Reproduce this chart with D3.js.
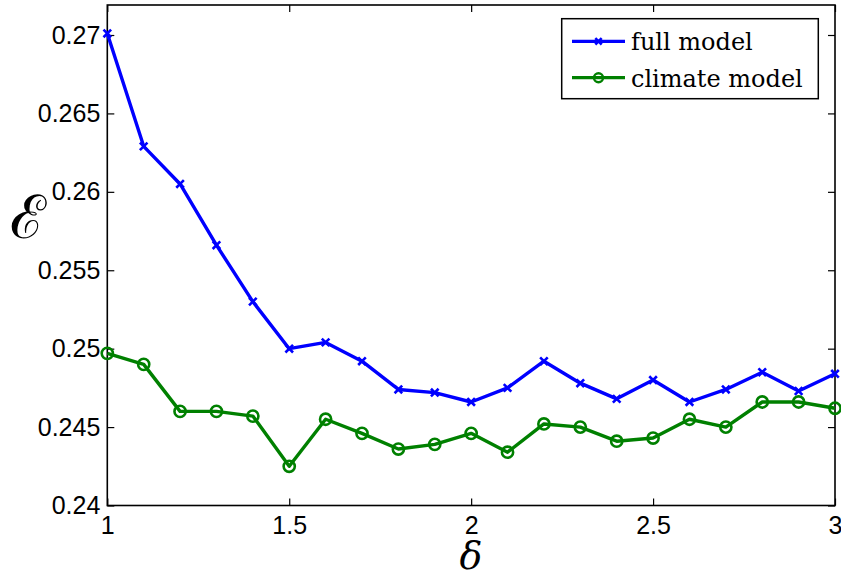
<!DOCTYPE html>
<html>
<head>
<meta charset="utf-8">
<script src="https://cdn.jsdelivr.net/npm/d3@7"></script>
<style>
  body { margin: 0; background: #fff; }
  .tick text { font-family: "Liberation Sans", Arial, sans-serif; font-size: 25px; fill: #000; }
</style>
</head>
<body>
<svg id="chart" width="841" height="579"></svg>
<script>
const deltas = [1, 1.1, 1.2, 1.3, 1.4, 1.5, 1.6, 1.7, 1.8, 1.9, 2, 2.1, 2.2, 2.3, 2.4, 2.5, 2.6, 2.7, 2.8, 2.9, 3];
const fullModel = [0.2701, 0.2629, 0.2605, 0.2566, 0.2530, 0.2500, 0.2504, 0.2492, 0.2474, 0.2472, 0.2466,
  0.2475, 0.2492, 0.2478, 0.2468, 0.2480, 0.2466, 0.2474, 0.2485, 0.2473, 0.2484];
const climateModel = [0.2497, 0.2490, 0.2460, 0.2460, 0.2457, 0.2425, 0.2455, 0.2446, 0.2436, 0.2439, 0.2446,
  0.2434, 0.2452, 0.2450, 0.2441, 0.2443, 0.2455, 0.2450, 0.2466, 0.2466, 0.2462];
const xTicks = [1, 1.5, 2, 2.5, 3];
const yTicks = [0.24, 0.245, 0.25, 0.255, 0.26, 0.265, 0.27];
const seriesNames = ["full model", "climate model"];

const svg = d3.select("#chart");
const pLeft = 107.3, pRight = 835, pTop = 5, pBottom = 505.5;

const x = d3.scaleLinear().domain([1, 3]).range([pLeft, pRight]);
// top of the box sits a bit above 0.27
const y = d3.scaleLinear().domain([0.24, 0.27]).range([pBottom, 35]);

// ticks inside the box, all four sides
svg.append("g").attr("transform", `translate(0,${pBottom})`)
  .call(d3.axisBottom(x).tickValues(xTicks).tickSize(-7).tickPadding(11).tickFormat(d3.format("")))
  .call(g => g.select(".domain").remove());
svg.append("g").attr("transform", `translate(0,${pTop})`)
  .call(d3.axisTop(x).tickValues(xTicks).tickSize(-7).tickFormat(""))
  .call(g => g.select(".domain").remove());
svg.append("g").attr("transform", `translate(${pLeft},0)`)
  .call(d3.axisLeft(y).tickValues(yTicks).tickSize(-7).tickPadding(7).tickFormat(d3.format("")))
  .call(g => g.select(".domain").remove());
svg.append("g").attr("transform", `translate(${pRight},0)`)
  .call(d3.axisRight(y).tickValues(yTicks).tickSize(-7).tickFormat(""))
  .call(g => g.select(".domain").remove());
svg.selectAll(".tick line").attr("stroke", "#000").attr("stroke-width", 1.2);

svg.append("rect")
  .attr("x", pLeft).attr("y", pTop).attr("width", pRight - pLeft).attr("height", pBottom - pTop)
  .attr("fill", "none").attr("stroke", "#000").attr("stroke-width", 1.6);

const line = d3.line().x((d, i) => x(deltas[i])).y(d => y(d));

function xMark(g, cx, cy, s, color) {
  g.append("path")
    .attr("d", `M${cx - s},${cy - s}L${cx + s},${cy + s}M${cx - s},${cy + s}L${cx + s},${cy - s}`)
    .attr("stroke", color).attr("stroke-width", 2.6).attr("fill", "none");
}

// full model
svg.append("path").datum(fullModel).attr("d", line)
  .attr("fill", "none").attr("stroke", "#0000ff").attr("stroke-width", 3.4).attr("stroke-linejoin", "round");
const gx = svg.append("g");
fullModel.forEach((v, i) => xMark(gx, x(deltas[i]), y(v), 3.8, "#0000ff"));

// climate model
svg.append("path").datum(climateModel).attr("d", line)
  .attr("fill", "none").attr("stroke", "#008000").attr("stroke-width", 3.4).attr("stroke-linejoin", "round");
svg.append("g").selectAll("circle").data(climateModel).join("circle")
  .attr("cx", (d, i) => x(deltas[i])).attr("cy", d => y(d)).attr("r", 5.6)
  .attr("fill", "none").attr("stroke", "#008000").attr("stroke-width", 2.6);

// legend
const lg = svg.append("g");
lg.append("rect").attr("x", 561.7).attr("y", 18.7).attr("width", 256.6).attr("height", 80)
  .attr("fill", "#fff").attr("stroke", "#000").attr("stroke-width", 1.5);
const legendRows = [
  { name: seriesNames[0], color: "#0000ff", yy: 41.3, mark: "x" },
  { name: seriesNames[1], color: "#008000", yy: 77.7, mark: "o" }
];
legendRows.forEach(r => {
  lg.append("line").attr("x1", 572).attr("x2", 625).attr("y1", r.yy).attr("y2", r.yy)
    .attr("stroke", r.color).attr("stroke-width", 3.2);
  if (r.mark === "x") xMark(lg, 598.5, r.yy, 3.2, r.color);
  else lg.append("circle").attr("cx", 598.5).attr("cy", r.yy).attr("r", 4.5)
    .attr("fill", "none").attr("stroke", r.color).attr("stroke-width", 2.4);
  lg.append("text").attr("x", 631).attr("y", r.yy + 8.8)
    .attr("font-family", "DejaVu Serif, serif").attr("font-size", 24)
    .text(r.name);
});

// axis labels
svg.append("text").attr("x", 471).attr("y", 569).attr("text-anchor", "middle")
  .attr("font-family", "DejaVu Serif, serif").attr("font-style", "italic").attr("font-size", 38)
  .text("δ");
svg.append("text").attr("x", 28).attr("y", 238).attr("text-anchor", "middle")
  .attr("font-family", "DejaVu Serif, serif").attr("font-size", 60)
  .text("ℰ");
</script>
</body>
</html>
